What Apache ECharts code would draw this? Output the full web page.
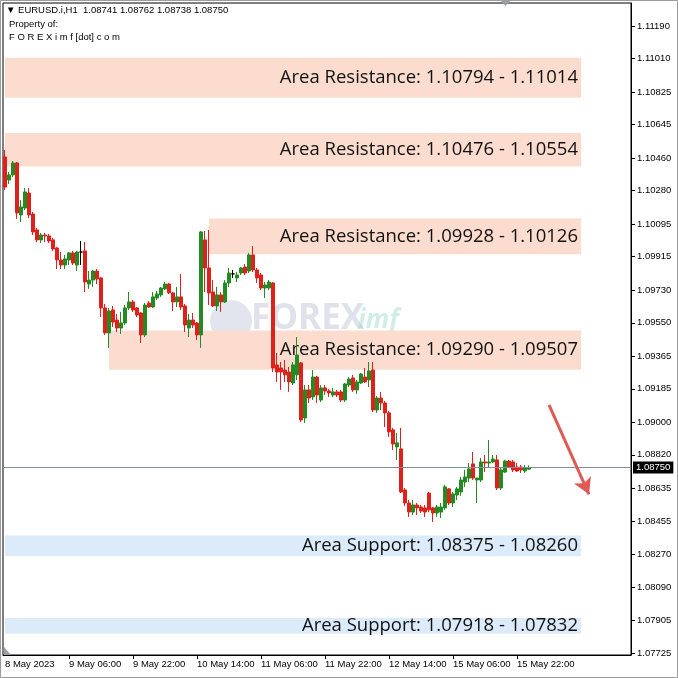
<!DOCTYPE html>
<html><head><meta charset="utf-8">
<script src="https://cdn.jsdelivr.net/npm/echarts@6/dist/echarts.min.js"></script>
<style>html,body{margin:0;padding:0;background:#fff}#c{width:678px;height:678px}</style>
</head><body><div id="c"></div>
<script>
// ---------- data ----------
const symbolName = 'EURUSD.i,H1';
const lastQuote = [1.08741, 1.08762, 1.08738, 1.08750]; // O H L C of last bar
const startHourUTC = [2023, 4, 8, 14]; // first bar: 8 May 2023 14:00
const slotCount = 157;                  // visible hourly slots (incl. empty right shift)

const opens = [1.10466,1.10339,1.10367,1.10433,1.10146,1.10184,1.10267,1.10151,1.10063,1.10008,
1.10035,1.10030,1.10008,1.09963,1.09897,1.09869,1.09897,1.09936,1.09869,1.09941,
1.09947,1.09764,1.09786,1.09836,1.09798,1.09632,1.09494,1.09621,1.09565,1.09521,
1.09549,1.09632,1.09665,1.09632,1.09604,1.09483,1.09659,1.09637,1.09687,1.09704,
1.09737,1.09764,1.09715,1.09665,1.09693,1.09643,1.09521,1.09565,1.09549,1.09483,
1.10008,1.09853,1.09720,1.09643,1.09704,1.09665,1.09770,1.09820,1.09798,1.09825,
1.09858,1.09836,1.09925,1.09842,1.09814,1.09742,1.09742,1.09770,1.09317,1.09300,
1.09289,1.09278,1.09217,1.09262,1.09328,1.09024,1.09179,1.09140,1.09250,1.09123,
1.09190,1.09173,1.09151,1.09168,1.09168,1.09123,1.09206,1.09245,1.09179,1.09217,
1.09250,1.09234,1.09289,1.09068,1.09134,1.09107,1.09052,1.08958,1.08864,1.08853,
1.08626,1.08554,1.08504,1.08543,1.08532,1.08527,1.08609,1.08527,1.08499,1.08504,
1.08527,1.08632,1.08554,1.08598,1.08615,1.08670,1.08692,1.08770,1.08681,1.08681,
1.08781,1.08775,1.08781,1.08792,1.08637,1.08725,1.08786,1.08781,1.08753,1.08753,
1.08731,1.08741];
const highs = [1.10505,1.10383,1.10444,1.10438,1.10228,1.10295,1.10295,1.10162,1.10074,1.10046,
1.10046,1.10041,1.10019,1.09969,1.09941,1.09925,1.09941,1.09947,1.09947,1.10002,
1.09996,1.09836,1.09842,1.09847,1.09803,1.09654,1.09632,1.09643,1.09599,1.09610,
1.09648,1.09720,1.09676,1.09637,1.09610,1.09659,1.09670,1.09720,1.09726,1.09748,
1.09775,1.09770,1.09720,1.09748,1.09820,1.09654,1.09599,1.09604,1.09554,1.10057,
1.10057,1.10063,1.09786,1.09748,1.09720,1.09786,1.09853,1.09842,1.09831,1.09858,
1.09875,1.09936,1.09974,1.09853,1.09825,1.09775,1.09786,1.09775,1.09383,1.09333,
1.09344,1.09306,1.09333,1.09471,1.09333,1.09206,1.09206,1.09289,1.09256,1.09206,
1.09206,1.09184,1.09190,1.09179,1.09179,1.09217,1.09250,1.09262,1.09234,1.09273,
1.09300,1.09333,1.09333,1.09145,1.09168,1.09118,1.09063,1.08969,1.08941,1.08969,
1.08637,1.08571,1.08571,1.08554,1.08543,1.08543,1.08615,1.08532,1.08543,1.08554,
1.08654,1.08637,1.08615,1.08643,1.08698,1.08737,1.08775,1.08836,1.08692,1.08803,
1.08819,1.08902,1.08819,1.08819,1.08748,1.08792,1.08792,1.08792,1.08775,1.08764,
1.08764,1.08762];
const lows = [1.10284,1.10317,1.10356,1.10124,1.10107,1.10173,1.10129,1.10035,1.09996,1.09991,
1.09996,1.09991,1.09947,1.09847,1.09847,1.09847,1.09869,1.09869,1.09836,1.09869,
1.09720,1.09737,1.09748,1.09764,1.09582,1.09483,1.09411,1.09527,1.09499,1.09488,
1.09538,1.09621,1.09610,1.09582,1.09438,1.09471,1.09632,1.09632,1.09676,1.09693,
1.09731,1.09709,1.09615,1.09637,1.09621,1.09499,1.09471,1.09521,1.09455,1.09411,
1.09720,1.09648,1.09637,1.09615,1.09610,1.09659,1.09748,1.09798,1.09775,1.09814,
1.09814,1.09825,1.09831,1.09770,1.09731,1.09687,1.09731,1.09278,1.09223,1.09179,
1.09223,1.09168,1.09206,1.09234,1.09002,1.08996,1.09107,1.09123,1.09107,1.09112,
1.09151,1.09140,1.09140,1.09140,1.09112,1.09112,1.09195,1.09168,1.09157,1.09212,
1.09217,1.09195,1.09057,1.09052,1.09068,1.08974,1.08919,1.08847,1.08792,1.08609,
1.08538,1.08477,1.08488,1.08488,1.08499,1.08477,1.08504,1.08449,1.08477,1.08471,
1.08516,1.08543,1.08532,1.08571,1.08593,1.08643,1.08670,1.08681,1.08554,1.08670,
1.08725,1.08753,1.08775,1.08626,1.08626,1.08720,1.08748,1.08725,1.08725,1.08720,
1.08720,1.08738];
const closes = [1.10300,1.10367,1.10433,1.10157,1.10190,1.10273,1.10146,1.10052,1.10008,1.10035,
1.10030,1.10002,1.09958,1.09897,1.09869,1.09903,1.09936,1.09880,1.09941,1.09941,
1.09775,1.09786,1.09836,1.09792,1.09632,1.09494,1.09615,1.09554,1.09521,1.09549,
1.09632,1.09665,1.09621,1.09593,1.09483,1.09648,1.09637,1.09693,1.09709,1.09742,
1.09764,1.09715,1.09665,1.09693,1.09637,1.09538,1.09565,1.09538,1.09483,1.10052,
1.09853,1.09715,1.09643,1.09704,1.09665,1.09770,1.09825,1.09820,1.09814,1.09853,
1.09825,1.09925,1.09842,1.09798,1.09742,1.09759,1.09775,1.09300,1.09278,1.09278,
1.09262,1.09223,1.09317,1.09372,1.09013,1.09179,1.09134,1.09250,1.09151,1.09190,
1.09173,1.09162,1.09168,1.09151,1.09123,1.09212,1.09239,1.09179,1.09223,1.09267,
1.09223,1.09284,1.09068,1.09134,1.09107,1.09052,1.08947,1.08880,1.08886,1.08615,
1.08554,1.08504,1.08543,1.08527,1.08510,1.08504,1.08516,1.08499,1.08532,1.08532,
1.08643,1.08554,1.08604,1.08632,1.08681,1.08698,1.08742,1.08692,1.08692,1.08781,
1.08775,1.08781,1.08797,1.08637,1.08737,1.08786,1.08753,1.08737,1.08731,1.08737,
1.08748,1.08750];

// price-axis tick labels (as printed by the terminal)
const priceTicks = [1.11190,1.11010,1.10825,1.10645,1.10460,1.10280,1.10095,1.09915,1.09730,1.09550,
1.09365,1.09185,1.09000,1.08820,1.08635,1.08455,1.08270,1.08090,1.07905,1.07725];
const priceMin = 1.07714, priceMax = 1.11317;

// time-axis tick labels
const timeTickCats  = ['8 May 14:00','9 May 06:00','9 May 22:00','10 May 14:00','11 May 06:00','11 May 22:00','12 May 14:00','15 May 06:00','15 May 22:00'];
const timeTickTexts = ['8 May 2023','9 May 06:00','9 May 22:00','10 May 14:00','11 May 06:00','11 May 22:00','12 May 14:00','15 May 06:00','15 May 22:00'];

// zones
const zoneKind   = ['Resistance','Resistance','Resistance','Resistance','Support','Support'];
const zoneTextA  = ['1.10794','1.10476','1.09928','1.09290','1.08375','1.07918'];
const zoneTextB  = ['1.11014','1.10554','1.10126','1.09507','1.08260','1.07832'];
const zoneLow    = [1.10794,1.10414,1.09928,1.09290,1.08260,1.07832];
const zoneHigh   = [1.11014,1.10599,1.10126,1.09507,1.08375,1.07918];
const zoneStartBar = [0,0,51,26,0,0];
const zoneEndBar   = [144,144,144,144,144,144];

// arrow (bar index, price)
const arrowFrom = [136, 1.09096];
const arrowTo   = [146, 1.08602];

// ---------- build ----------
const MON = ['Jan','Feb','Mar','Apr','May','Jun','Jul','Aug','Sep','Oct','Nov','Dec'];
const categories = [];
let t = Date.UTC(startHourUTC[0], startHourUTC[1], startHourUTC[2], startHourUTC[3]);
while (categories.length < slotCount) {
  const d = new Date(t);
  const wd = d.getUTCDay();
  if (wd !== 0 && wd !== 6) {
    categories.push(d.getUTCDate() + ' ' + MON[d.getUTCMonth()] + ' ' + String(d.getUTCHours()).padStart(2,'0') + ':00');
  }
  t += 3600000;
}
const candleData = opens.map((o, i) => [o, closes[i], lows[i], highs[i]]);

const RES_FILL = '#fbdccf', SUP_FILL = '#dcebf9';
const zoneData = zoneKind.map((k, i) => [
  { name: 'Area ' + k + ': ' + zoneTextA[i] + ' - ' + zoneTextB[i],
    coord: [zoneStartBar[i], zoneLow[i]],
    itemStyle: { color: k === 'Resistance' ? RES_FILL : SUP_FILL } },
  { coord: [zoneEndBar[i], zoneHigh[i]] }
]);

const chart = echarts.init(document.getElementById('c'), null, { renderer: 'canvas' });
chart.setOption({
  animation: false,
  backgroundColor: '#ffffff',
  grid: { left: 3, right: 47, top: 3, bottom: 23, show: true, borderColor: '#000', borderWidth: 1, backgroundColor: 'transparent' },
  xAxis: {
    type: 'category', data: categories, boundaryGap: true,
    axisLine: { show: true, lineStyle: { color: '#000' } },
    axisTick: { show: true, alignWithLabel: true, length: 4, lineStyle: { color: '#000' },
      interval: (i, v) => timeTickCats.indexOf(v) > 0 },
    axisLabel: { show: true, align: 'left', margin: 4, fontSize: 9.5, color: '#000', fontFamily: 'Liberation Sans',
      interval: (i, v) => timeTickCats.indexOf(v) >= 0,
      formatter: v => { const k = timeTickCats.indexOf(v); return k >= 0 ? timeTickTexts[k] : ''; } },
    splitLine: { show: false }
  },
  yAxis: {
    type: 'value', position: 'right', min: priceMin, max: priceMax, scale: true,
    axisLine: { show: true, lineStyle: { color: '#000' } },
    axisTick: { show: true, length: 4, customValues: priceTicks, lineStyle: { color: '#000' } },
    axisLabel: { show: true, margin: 6, fontSize: 9.5, color: '#000', fontFamily: 'Liberation Sans',
      customValues: priceTicks, formatter: v => v.toFixed(5) },
    splitLine: { show: false }
  },
  series: [
    {
      name: 'zones', type: 'scatter', data: [], z: 1, silent: true,
      markArea: {
        silent: true,
        label: { show: true, position: 'insideRight', distance: 3, color: '#111', fontSize: 18.5,
          fontFamily: 'Open Sans', formatter: '{b}' },
        data: zoneData
      }
    },
    {
      name: symbolName, type: 'candlestick', data: candleData, z: 3, barWidth: 3,
      itemStyle: { color: '#228b22', color0: '#e0201b', borderColor: '#228b22', borderColor0: '#e0201b',
        borderColorDoji: '#000', borderWidth: 1 }
    },
    {
      name: 'priceLine', type: 'scatter', data: [], z: 4, silent: true,
      markLine: {
        silent: true, symbol: 'none', animation: false, precision: 5,
        lineStyle: { color: '#7f8c99', width: 1, type: 'solid' },
        label: { show: true, position: 'end', distance: 2, color: '#fff', backgroundColor: '#000',
          padding: [1, 3, 1, 3], fontSize: 9.5, fontFamily: 'Liberation Sans', formatter: () => lastQuote[3].toFixed(5) },
        data: [{ yAxis: lastQuote[3] }]
      }
    },
    {
      name: 'arrow', type: 'scatter', data: [], z: 5, silent: true,
      markLine: {
        silent: true, symbol: ['none', 'arrow'], symbolSize: [14, 16], precision: 5,
        lineStyle: { color: '#e05a55', width: 3, type: 'solid' },
        label: { show: false },
        data: [[{ coord: arrowFrom }, { coord: arrowTo }]]
      }
    }
  ],
  graphic: [
    { type: 'rect', z: 20, silent: true, shape: { x: 0.5, y: 0.5, width: 677, height: 677 }, style: { fill: null, stroke: '#9c9c9c', lineWidth: 1 } },
    { type: 'polygon', z: 20, silent: true, shape: { points: [[500, 0], [511, 0], [505.5, 6]] }, style: { fill: '#9aa0a6' } },
    { type: 'polygon', z: 20, silent: true, shape: { points: [[4, 647], [4, 655], [11, 655]] }, style: { fill: '#9aa0a6' } },
    { type: 'text', z: 20, left: 6, top: 5, style: { text: '▼ ' + symbolName + '  ' + lastQuote.map(v => v.toFixed(5)).join(' '), font: '9.5px "Liberation Sans"', fill: '#000' } },
    { type: 'text', z: 20, left: 9, top: 19, style: { text: 'Property of:', font: '9.5px "Liberation Sans"', fill: '#000' } },
    { type: 'text', z: 20, left: 9, top: 32, style: { text: 'F O R E X i m f [dot] c o m', font: '9.5px "Liberation Sans"', fill: '#000' } },
    { type: 'group', z: 2, silent: true, children: [
      { type: 'circle', shape: { cx: 231, cy: 321, r: 21 }, style: { fill: 'rgba(175,180,205,0.35)' } },
      { type: 'text', x: 251, y: 302, style: { text: 'FOREX', font: 'bold 35px "Open Sans"', fill: 'rgba(175,180,205,0.4)' } },
      { type: 'text', x: 358, y: 308, style: { text: 'imf', font: 'bold italic 26px "Open Sans"', fill: 'rgba(140,210,195,0.4)' } }
    ]}
  ]
});
</script></body></html>
